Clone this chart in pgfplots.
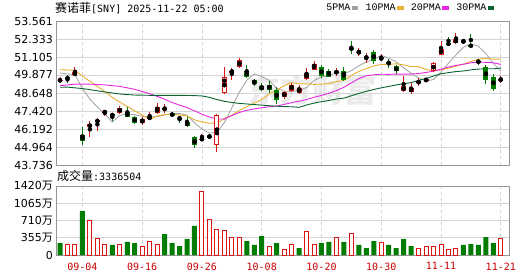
\documentclass[border=0pt]{standalone}
\usepackage{fontspec}
\usepackage{pgfplots}
\usepackage{pgfplotstable}
\pgfplotsset{compat=1.18}
\setmainfont{DejaVu Sans}
\newfontfamily\cjk{Noto Sans CJK SC}
\newfontfamily\mono{DejaVu Sans Mono}
\newfontfamily\lmono{Liberation Mono}

\definecolor{upred}{RGB}{220,20,20}
\definecolor{dngreen}{RGB}{0,125,0}
\definecolor{ma5}{RGB}{160,160,160}
\definecolor{ma10}{RGB}{232,176,48}
\definecolor{ma20}{RGB}{230,40,230}
\definecolor{ma30}{RGB}{10,100,50}
\definecolor{gridc}{RGB}{212,212,212}
\definecolor{framec}{RGB}{150,150,150}
\definecolor{datec}{RGB}{200,0,0}

% up (red) candles: index open high low close
\pgfplotstableread{
i O H L C
0 49.48 49.72 49.31 49.56
2 49.85 50.40 49.79 50.06
4 46.31 46.72 45.62 46.53
5 46.65 46.94 46.08 46.83
6 47.26 47.51 47.06 47.44
8 47.31 47.74 47.22 47.63
11 46.63 46.99 46.44 46.88
12 46.92 47.33 46.83 46.99
13 47.26 47.94 47.22 47.67
14 47.49 47.90 47.28 47.63
19 45.46 45.85 45.46 45.53
21 45.12 47.22 44.60 47.17
22 48.65 50.40 48.58 49.72
23 50.08 50.35 49.56 50.15
24 50.40 51.04 50.35 50.88
30 48.35 48.81 48.26 48.72
31 48.81 49.33 48.72 49.22
32 48.65 49.22 48.58 48.99
33 49.60 50.35 49.56 50.01
34 50.24 50.81 50.20 50.62
37 50.03 50.35 49.79 50.10
40 51.38 51.72 51.20 51.45
41 51.04 51.38 50.70 51.11
43 50.97 51.31 50.81 51.04
46 48.81 49.79 48.72 49.10
47 48.72 49.33 48.58 48.99
48 49.31 49.67 49.10 49.49
49 49.51 49.67 49.38 49.58
50 50.13 50.74 50.08 50.70
51 51.26 52.22 51.22 51.67
53 52.06 52.74 52.01 52.33
54 52.13 52.36 52.01 52.20
59 49.53 49.79 49.33 49.60
}\upT

% down (green) candles
\pgfplotstableread{
i O H L C
1 49.71 49.85 49.31 49.64
3 45.76 46.31 45.08 45.35
7 47.19 47.28 46.76 47.12
9 47.33 47.67 46.99 47.03
10 47.01 47.06 46.56 46.60
15 47.28 47.35 47.01 47.06
16 46.97 47.10 46.63 46.90
17 46.65 47.01 46.35 46.42
18 45.65 45.69 44.90 45.08
20 45.70 45.85 45.53 45.63
25 50.17 50.58 49.67 49.72
26 49.56 49.60 49.10 49.26
27 49.15 49.33 48.76 48.83
28 49.22 49.45 48.65 48.87
29 48.85 49.04 47.90 48.19
35 50.40 50.54 49.67 49.79
36 50.13 50.31 49.72 49.76
38 50.13 50.40 49.49 49.56
39 51.70 52.17 51.31 51.63
42 51.42 51.61 50.65 50.86
44 50.75 50.99 50.35 50.68
45 50.47 50.58 49.97 50.13
52 52.03 52.45 51.96 51.96
55 51.90 52.70 51.83 51.83
56 50.83 50.97 50.58 50.76
57 50.40 50.58 49.29 49.56
58 49.72 49.95 48.76 48.94
}\dnT

% moving averages
\pgfplotstableread{
i m5 m10 m20 m30
0 50.01 50.24 49.15 49.04
1 49.95 50.22 49.20 49.05
2 49.90 50.20 49.25 49.00
3 48.95 49.80 49.26 48.95
4 48.23 49.45 49.25 48.88
5 47.69 49.10 49.23 48.80
6 47.24 48.75 49.20 48.72
7 46.66 48.35 49.15 48.65
8 47.12 48.03 49.10 48.58
9 47.22 47.73 49.00 48.54
10 47.17 47.43 48.90 48.51
11 47.06 47.15 48.75 48.50
12 47.03 46.84 48.60 48.49
13 47.03 47.08 48.42 48.49
14 47.15 47.18 48.22 48.49
15 47.24 47.20 48.00 48.49
16 47.25 47.15 47.82 48.49
17 47.14 47.08 47.65 48.48
18 46.62 46.82 47.43 48.47
19 46.19 46.67 47.20 48.45
20 45.91 46.58 47.01 48.35
21 45.96 46.61 46.88 48.20
22 46.63 46.89 46.87 48.08
23 47.64 47.14 47.11 48.00
24 48.71 47.46 47.32 47.94
25 49.53 47.72 47.47 47.90
26 49.95 47.96 47.56 47.86
27 49.77 48.20 47.64 47.82
28 49.51 48.58 47.71 47.78
29 48.97 48.84 47.76 47.75
30 48.77 49.15 47.87 47.72
31 48.77 49.36 47.99 47.71
32 48.80 49.28 48.09 47.67
33 49.03 49.27 48.20 47.83
34 49.51 49.24 48.35 47.96
35 49.73 49.25 48.49 48.06
36 49.83 49.30 48.63 48.14
37 50.05 49.43 48.81 48.24
38 49.96 49.50 49.04 48.30
39 50.17 49.85 49.34 48.46
40 50.51 50.12 49.63 48.62
41 50.77 50.31 49.83 48.76
42 50.93 50.49 49.89 48.89
43 51.22 50.60 49.93 49.00
44 51.03 50.61 49.92 49.10
45 50.77 50.64 49.94 49.20
46 50.37 50.57 49.94 49.28
47 49.99 50.46 49.94 49.36
48 49.68 50.45 49.98 49.51
49 49.46 50.25 50.05 49.64
50 49.57 50.17 50.14 49.81
51 50.09 50.23 50.27 49.96
52 50.68 50.34 50.42 50.04
53 51.25 50.47 50.53 50.11
54 51.77 50.62 50.61 50.15
55 52.01 50.79 50.71 50.23
56 51.83 50.96 50.76 50.28
57 51.35 51.02 50.74 50.30
58 50.67 50.96 50.71 50.30
59 50.15 50.96 50.60 50.35
}\maT

% volume (10k shares), up days
\pgfplotstableread{
i v
1 220
2 220
4 713
5 343
6 220
8 220
11 165
12 281
13 206
19 1317
20 734
21 528
22 508
23 350
24 370
28 185
30 117
31 206
33 487
34 206
37 350
39 446
43 261
48 144
49 165
50 165
51 206
52 123
53 137
59 334
}\volUp

% volume, down days
\pgfplotstableread{
i v
0 247
3 905
7 206
9 268
10 247
14 432
15 247
16 185
17 329
18 597
25 288
26 206
27 391
29 247
32 144
35 247
36 268
38 268
40 206
41 144
42 288
44 206
45 144
46 329
47 185
54 206
55 226
56 206
57 370
58 247
}\volDn

\pgfplotsset{
  kbase/.style={
    scale only axis, width=453pt,
    xmin=-0.54, xmax=60.1,
    axis line style={draw=framec, line width=0.9pt},
    tick style={draw=none},
    major tick length=0pt,
    xmajorgrids, ymajorgrids,
    x grid style={draw=gridc, dash pattern=on 3pt off 3pt, line width=0.8pt},
    y grid style={draw=gridc, line width=0.8pt},
    xtick={3,11,19,27,35,43,51,59},
    tick label style={font=\fontsize{11}{11}\selectfont, inner sep=0pt},
    yticklabel style={anchor=east, xshift=-3pt},
    /pgf/number format/assume math mode=true,
  },
  candlebar/.style={only marks, mark=none, forget plot,
    error bars/.cd, y dir=both, y explicit, error mark=none},
}

\begin{document}
\begin{tikzpicture}
\path[use as bounding box] (0pt,0pt) rectangle (530pt,-276pt);

% watermark
\node[text=black!8, font=\cjk\bfseries\fontsize{32}{32}\selectfont, inner sep=0pt] at (312pt,-90pt) {东方财富};

% title
\node[anchor=base west, inner sep=0pt] at (55pt,-12.3pt)
  {{\cjk\fontsize{12}{12}\selectfont 赛诺菲}{\mono\fontsize{10}{10}\selectfont [SNY] 2025-11-22 05:00}};

\begin{axis}[kbase,
  at={(56pt,-21pt)}, anchor=north west, height=144pt,
  ymin=43.736, ymax=53.561,
  ytick={43.736,44.964,46.192,47.420,48.648,49.877,51.105,52.333,53.561},
  yticklabels={43.736,44.964,46.192,47.420,48.648,49.877,51.105,52.333,53.561},
  xticklabels={,,,,,,,},
  legend columns=4,
  legend plot pos=right,
  legend style={at={(rel axis cs:0.968,1)}, anchor=south east, yshift=7.5pt,
    draw=none, fill=none, inner sep=0pt,
    font=\lmono\fontsize{10}{10}\selectfont,
    nodes={inner sep=1.5pt},
    /tikz/every even column/.append style={column sep=6pt}},
  legend image code/.code={\fill (0pt,-1.5pt) rectangle (5.5pt,1.5pt);},
]
\addplot[color=ma5, line width=0.8pt] table[x=i, y=m5] {\maT};
\addlegendentry{5PMA}
\addplot[color=ma10, line width=0.9pt] table[x=i, y=m10] {\maT};
\addlegendentry{10PMA}
\addplot[color=ma20, line width=0.9pt] table[x=i, y=m20] {\maT};
\addlegendentry{20PMA}
\addplot[color=ma30, line width=0.9pt] table[x=i, y=m30] {\maT};
\addlegendentry{30PMA}

% green candles: wick + filled body
\addplot[candlebar, error bar style={draw=dngreen, line width=1pt}]
  table[x=i, y expr={(\thisrow{H}+\thisrow{L})/2}, y error expr={(\thisrow{H}-\thisrow{L})/2}] {\dnT};
\addplot[candlebar, error bar style={draw=dngreen, line width=5pt}]
  table[x=i, y expr={(\thisrow{O}+\thisrow{C})/2}, y error expr={(\thisrow{O}-\thisrow{C})/2}] {\dnT};

% red candles: wick + hollow body
\addplot[candlebar, error bar style={draw=upred, line width=1pt}]
  table[x=i, y expr={(\thisrow{H}+\thisrow{L})/2}, y error expr={(\thisrow{H}-\thisrow{L})/2}] {\upT};
\addplot[candlebar, error bar style={draw=upred, line width=5pt}]
  table[x=i, y expr={(\thisrow{O}+\thisrow{C})/2}, y error expr={(\thisrow{C}-\thisrow{O})/2}] {\upT};
\addplot[candlebar, error bar style={draw=white, line width=3pt}]
  table[x=i, y expr={(\thisrow{O}+\thisrow{C})/2}, y error expr={max((\thisrow{C}-\thisrow{O})/2-0.068,0)}] {\upT};
\end{axis}

% volume caption
\node[anchor=base west, inner sep=0pt] at (57pt,-180pt)
  {{\cjk\fontsize{12}{12}\selectfont 成交量}{\mono\fontsize{10}{10}\selectfont :3336504}};

\begin{axis}[kbase,
  at={(56pt,-186pt)}, anchor=north west, height=69pt,
  ymin=0, ymax=1420,
  ytick={0,355,710,1065,1420},
  yticklabels={0,355{\cjk 万},710{\cjk 万},1065{\cjk 万},1420{\cjk 万}},
  xticklabels={09-04,09-16,09-26,10-08,10-20,10-30,11-11,11-21},
  xticklabel style={font=\mono\fontsize{10}{10}\selectfont, text=datec, anchor=north, yshift=-7.5pt},
]
\addplot[ybar, bar width=5pt, bar shift=0pt, fill=dngreen, draw=none, forget plot]
  table[x=i, y=v] {\volDn};
\addplot[ybar, bar width=4pt, bar shift=0pt, fill=white, draw=upred, line width=1pt, forget plot]
  table[x=i, y=v] {\volUp};
\end{axis}
\end{tikzpicture}
\end{document}
